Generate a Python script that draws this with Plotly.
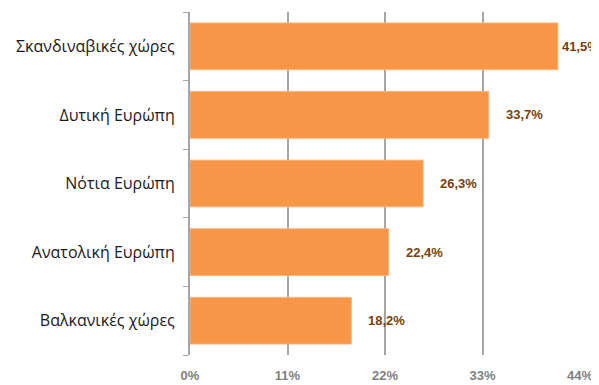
import plotly.graph_objects as go

categories = ["Σκανδιναβικές χώρες", "Δυτική Ευρώπη", "Νότια Ευρώπη", "Ανατολική Ευρώπη", "Βαλκανικές χώρες"]
values = [41.5, 33.7, 26.3, 22.4, 18.2]
tick_vals = [0, 11, 22, 33, 44]
tick_text = ["0%", "11%", "22%", "33%", "44%"]
label_text = [f"{v:.1f}%".replace(".", ",") for v in values]

fig = go.Figure()
fig.add_trace(go.Bar(
    x=values, y=categories, orientation="h",
    marker=dict(color="#F79646", line=dict(color="#FAB37A", width=1)),
    width=0.68, hoverinfo="skip",
))

for c, v, t in zip(categories, values, label_text):
    fig.add_annotation(
        x=v, y=c, text=f"<b>{t}</b>", showarrow=False,
        xanchor="left", xshift=(2 if v > 40 else 15),
        font=dict(family="Liberation Sans", size=13, color="#7A3F0A"),
    )

fig.update_layout(
    width=591, height=377,
    margin=dict(l=182, r=19, t=4, b=30, autoexpand=False),
    paper_bgcolor="white", plot_bgcolor="white",
    showlegend=False,
    font=dict(family="Liberation Sans"),
)
fig.update_xaxes(
    range=[0, 44], tickvals=tick_vals, ticktext=[f"<b>{t}</b>" for t in tick_text],
    showgrid=True, gridcolor="#A6A6A6", gridwidth=2,
    zeroline=False, showline=False, automargin=False,
    ticks="outside", ticklen=8, tickcolor="rgba(0,0,0,0)",
    tickfont=dict(family="Liberation Sans", size=13, color="#808080"),
)
fig.update_yaxes(
    categoryorder="array", categoryarray=categories[::-1],
    showline=True, linecolor="#A6A6A6", linewidth=2, automargin=False,
    showgrid=False, ticks="outside", tickson="boundaries", ticklen=5,
    tickcolor="#A6A6A6", tickwidth=1, ticklabelstandoff=10,
    tickfont=dict(family="Open Sans", size=16, color="#1a1a1a"),
)

fig.write_html("out.html")
